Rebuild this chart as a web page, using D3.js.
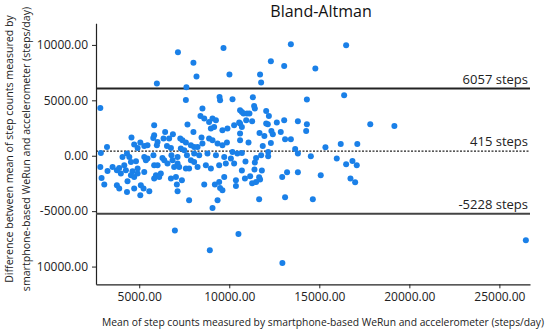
<!DOCTYPE html>
<html>
<head>
<meta charset="utf-8">
<script src="https://cdn.jsdelivr.net/npm/d3@7"></script>
<style>
  html, body { margin: 0; padding: 0; background: #fff; }
  svg { display: block; font-family: "Open Sans", "Noto Sans", sans-serif; }
</style>
</head>
<body>
<div id="chart"></div>
<script>
// mean of the two step counts (x) and their difference (y)
const meanSteps = [
    5980, 7150, 8010, 8180, 7620, 9680, 10010, 11710, 11770, 12310, 13050, 13420, 14780, 16490,
    2840, 7590, 9460, 9490, 10180, 8510, 8400, 8610, 9070, 9260, 7680, 8880, 8980, 9160, 9620, 9900,
    10270, 10550, 5830, 6440, 6870, 5830, 5780, 6350, 6660, 4570, 8010, 8460, 7280, 7400, 7590, 7870,
    8050, 8240, 8510, 8880, 9070, 9350, 9620, 9870, 4720, 5060, 5280, 5460, 4910, 6020, 5980, 6540,
    6760, 7310, 7500, 3210, 2870, 4450, 4320, 4070, 5280, 5460, 5790, 6290, 6790, 7130, 7650, 8050,
    8330, 8790, 9260, 9720, 10180, 10450,
    11310, 14310, 16380, 10600, 10700, 10790, 10980, 11120, 11380, 11420, 10940, 11270, 12050, 12200,
    10600, 10700, 12050, 12140, 12640, 13050, 13810, 14310, 14270, 11680, 11950, 12340, 12420, 12860,
    10600, 10600, 11070, 12310, 11860, 13100, 13420, 13660, 13810, 14530, 15340, 16190, 17110, 17830,
    10700, 11490, 11770, 12160, 12160, 15970,
    2840, 3240, 2910, 3060, 3520, 3760, 3890, 4170, 4260, 3980, 4540, 4820, 4630, 4910, 4540, 4720,
    4910, 5280, 5370, 5830, 6020, 6200, 5930, 5830, 6110, 6390, 6570, 6850, 7130, 6940, 7220, 7590,
    7770, 7870, 8050, 8240, 8700, 8980, 9440, 9810, 10090, 10270, 3760, 3890, 4320, 4350, 4720, 5090,
    5240, 5060, 5560, 6760, 7040, 7370, 7090, 7130, 7770, 8610, 9200, 9440, 9720, 9490, 9620, 10370,
    10370, 9350, 9070,
    10900, 11420, 10700, 11400, 11810, 10870, 11160, 11660, 11710, 11270, 11490, 12940, 13210, 13810,
    15080, 16490, 16840, 17080, 16730, 16990, 11660, 13100, 14640,
    19170, 6980, 10510, 8920, 12950, 26470
];
const diffSteps = [
    6520, 9340, 8380, 7150, 6180, 9730, 7330, 7330, 6610, 8530, 8100, 10060, 7870, 9970,
    4310, 5040, 5310, 5010, 5100, 4260, 3590, 3360, 3360, 3200, 2820, 3050, 2460, 2600, 2300, 2460,
    2750, 3000, 2750, 2150, 1940, 1850, 1610, 1550, 1550, 1640, 2150, 1640, 1550, 1400, 1190, 950,
    790, 790, 1100, 1550, 1400, 1100, 950, 1190, 1010, 1190, 880, 950, 700, 1250, 950, 880,
    700, 650, 500, 790, 250, -110, 200, -110, -110, -250, 50, -200, 50, -110, 50, 200,
    50, 200, 50, -110, 340, 200,
    5280, 5070, 5460, 4110, 3950, 3810, 3810, 3810, 4490, 4260, 3200, 3110, 4040, 3590,
    2910, 2600, 2910, 2840, 3000, 3200, 3110, 2840, 2240, 2060, 1790, 2240, 1940, 2150,
    2000, 1400, 1190, 1160, 880, 1490, 1490, 610, 200, -50, 770, 1070, 1070, 2840,
    250, -200, 50, 340, -50, -250,
    -1010, -1370, -2000, -2600, -1010, -1310, -1100, -860, -1310, -1610, -560, -500, -1400, -1160, -1760, -1910,
    -1610, -1460, -410, -860, -860, -1610, -1760, -2060, -1910, -410, -700, -410, -700, -1010, -1010, -1160,
    -1160, -410, -560, -1010, -860, -1160, -860, -700, -250, -700, -2660, -2960, -3270, -2300, -2960, -2660,
    -2960, -3570, -3200, -2060, -1910, -2210, -2600, -3200, -4020, -2600, -2600, -2370, -1910, -2910, -3110, -2210,
    -2730, -4020, -4710,
    -520, -610, -1340, -1250, -1340, -2060, -1850, -1940, -2150, -2480, -2370, -1910, -1490, -1490,
    -1760, -770, -470, -860, -2060, -2390, -3930, -3750, -3930,
    2690, -6750, -7060, -8530, -9680, -7630
];

// agreement lines: upper limit, mean bias, lower limit
const limitValues = [6057, 415, -5228];
const limitLabels = ['6057 steps', '415 steps', '-5228 steps'];

const xTickValues = [5000, 10000, 15000, 20000, 25000];
const xTickLabels = ['5000.00', '10000.00', '15000.00', '20000.00', '25000.00'];
const yTickValues = [10000, 5000, 0, -5000, -10000];
const yTickLabels = ['10000.00', '5000.00', '0.00', '-5000.00', '10000.00'];

const width = 546;
const height = 332;
const dotColor = '#1a80e8';

const svg = d3.select('#chart').append('svg')
    .attr('width', width)
    .attr('height', height);

const x = d3.scaleLinear().domain([2600, 26700]).range([96, 530]);
const y = d3.scaleLinear().domain([-11600, 11950]).range([284.3, 23.3]);

// axes
const xAxis = svg.append('g')
    .attr('transform', `translate(0,${y.range()[0]})`)
    .call(d3.axisBottom(x)
        .tickValues(xTickValues)
        .tickFormat((d, i) => xTickLabels[i])
        .tickSize(4)
        .tickSizeOuter(0)
        .tickPadding(4));

const yAxis = svg.append('g')
    .attr('transform', `translate(${x.range()[0]},0)`)
    .call(d3.axisLeft(y)
        .tickValues(yTickValues)
        .tickFormat((d, i) => yTickLabels[i])
        .tickSize(4)
        .tickSizeOuter(0)
        .tickPadding(4));

[xAxis, yAxis].forEach((g) => {
    g.select('.domain').attr('stroke', '#222').attr('stroke-width', 1.2);
    g.selectAll('.tick line').attr('stroke', '#222');
    g.selectAll('.tick text')
        .attr('fill', '#222')
        .style('font-size', '12px')
        .style('font-family', '"Open Sans", sans-serif');
});

// limit lines
const limits = svg.append('g');
limits.selectAll('line')
    .data(limitValues)
    .join('line')
    .attr('x1', x.range()[0])
    .attr('x2', x.range()[1])
    .attr('y1', (d) => y(d))
    .attr('y2', (d) => y(d))
    .attr('stroke', (d, i) => (i === 2 ? '#444' : '#222'))
    .attr('stroke-width', (d, i) => (i === 1 ? 1.3 : 2))
    .attr('stroke-dasharray', (d, i) => (i === 1 ? '2,1.5' : null));

limits.selectAll('text')
    .data(limitValues)
    .join('text')
    .attr('x', x.range()[1] - 2)
    .attr('y', (d) => y(d) - 5)
    .attr('text-anchor', 'end')
    .attr('fill', '#222')
    .style('font-size', '13px')
    .text((d, i) => limitLabels[i]);

// points
svg.append('g')
    .selectAll('circle')
    .data(meanSteps.map((m, i) => [m, diffSteps[i]]))
    .join('circle')
    .attr('cx', (d) => x(d[0]))
    .attr('cy', (d) => y(d[1]))
    .attr('r', 3)
    .attr('fill', dotColor);

// titles
svg.append('text')
    .attr('x', 321)
    .attr('y', 17)
    .attr('text-anchor', 'middle')
    .attr('fill', '#111')
    .style('font-size', '16px')
    .text('Bland-Altman');

svg.append('text')
    .attr('x', 323)
    .attr('y', 326)
    .attr('text-anchor', 'middle')
    .attr('fill', '#222')
    .style('font-size', '10.3px')
    .text('Mean of step counts measured by smartphone-based WeRun and accelerometer (steps/day)');

const yTitle = svg.append('text')
    .attr('transform', 'translate(0,149) rotate(-90)')
    .attr('text-anchor', 'middle')
    .attr('fill', '#222')
    .style('font-size', '10.6px');
yTitle.append('tspan')
    .attr('x', 0)
    .attr('y', 13)
    .text('Difference between mean of step counts measured by');
yTitle.append('tspan')
    .attr('x', 0)
    .attr('y', 30)
    .text('smartphone-based WeRun and accelerometer (steps/day)');
</script>
</body>
</html>
